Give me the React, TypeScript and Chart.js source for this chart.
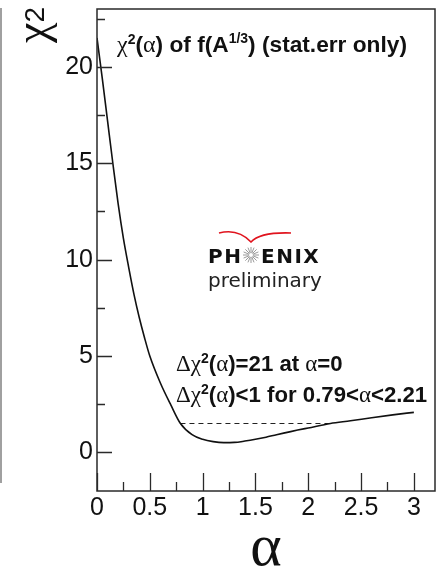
import React, { useEffect, useRef } from "react";
import { Chart, registerables } from "chart.js";

Chart.register(...registerables);

// χ² scan as a function of α
const alphaValues = [
  0, 0.05, 0.1, 0.15, 0.2, 0.25, 0.3, 0.35, 0.4, 0.45, 0.5, 0.6, 0.7, 0.79,
  0.9, 1.0, 1.1, 1.2, 1.3, 1.4, 1.5, 1.6, 1.7, 1.8, 1.9, 2.0, 2.21, 2.4, 2.6, 2.8, 3.0,
];
const chi2Values = [
  21.5, 19.4, 17.2, 15.0, 12.9, 11.1, 9.6, 8.2, 7.0, 5.95, 5.0, 3.6, 2.45, 1.5,
  0.92, 0.68, 0.56, 0.51, 0.52, 0.59, 0.68, 0.79, 0.92, 1.04, 1.16, 1.27, 1.5, 1.64, 1.8, 1.95, 2.08,
];

// Δχ² < 1 band: α range where χ² stays below min + 1
const bandAlpha = [0.79, 2.21];
const bandChi2 = [1.5, 1.5];

const xTickValues = [0, 0.5, 1, 1.5, 2, 2.5, 3];
const yTickValues = [0, 5, 10, 15, 20];

const SANS = "'Liberation Sans', Arial, sans-serif";
const GREEK = "'Liberation Serif', 'Times New Roman', serif";

type Run = { text: string; font: string; rise?: number };

function drawRuns(ctx: CanvasRenderingContext2D, x: number, y: number, runs: Run[]) {
  let cx = x;
  for (const r of runs) {
    ctx.font = r.font;
    ctx.fillText(r.text, cx, y - (r.rise || 0));
    cx += ctx.measureText(r.text).width;
  }
  return cx;
}

const decorPlugin = {
  id: "decor",
  afterDraw(chart: any) {
    const { ctx, chartArea } = chart;
    const xs = chart.scales.x;
    const ys = chart.scales.y;
    const { left, right, top, bottom } = chartArea;
    ctx.save();

    // neighbouring panel edge
    ctx.strokeStyle = "#a0a0a0";
    ctx.lineWidth = 2;
    ctx.beginPath();
    ctx.moveTo(1, 8);
    ctx.lineTo(1, 483);
    ctx.stroke();

    // frame
    ctx.strokeStyle = "#2a2a2a";
    ctx.lineWidth = 1.5;
    ctx.strokeRect(left, top, right - left, bottom - top);

    // inward ticks on the left axis
    ctx.lineWidth = 1.3;
    ctx.beginPath();
    for (let v = 0; v <= 22.5 + 1e-9; v += 2.5) {
      const py = Math.round(ys.getPixelForValue(v)) + 0.5;
      const major = Math.abs(v / 5 - Math.round(v / 5)) < 1e-6;
      ctx.moveTo(left, py);
      ctx.lineTo(left + (major ? 15 : 8), py);
    }
    // inward ticks on the bottom axis
    for (let v = 0; v <= 3 + 1e-9; v += 0.25) {
      const px = Math.round(xs.getPixelForValue(v)) + 0.5;
      const major = Math.abs(v / 0.5 - Math.round(v / 0.5)) < 1e-6;
      ctx.moveTo(px, bottom);
      ctx.lineTo(px, bottom - (major ? 18 : 9));
    }
    ctx.stroke();

    ctx.fillStyle = "#111";
    ctx.textAlign = "left";
    ctx.textBaseline = "alphabetic";

    // title inside the frame
    drawRuns(ctx, 117, 52, [
      { text: "χ", font: `24px ${GREEK}` },
      { text: "2", font: `bold 14px ${SANS}`, rise: 8 },
      { text: "(", font: `bold 22.7px ${SANS}` },
      { text: "α", font: `24px ${GREEK}` },
      { text: ") of f(A", font: `bold 22.7px ${SANS}` },
      { text: "1/3", font: `bold 14px ${SANS}`, rise: 9 },
      { text: ") (stat.err only)", font: `bold 22.7px ${SANS}` },
    ]);

    // annotations
    const ann = (y: number, mid: string, tail: string) =>
      drawRuns(ctx, 176, y, [
        { text: "Δχ", font: `23px ${GREEK}` },
        { text: "2", font: `bold 14px ${SANS}`, rise: 8 },
        { text: "(", font: `bold 22.2px ${SANS}` },
        { text: "α", font: `23px ${GREEK}` },
        { text: mid, font: `bold 22.2px ${SANS}` },
        { text: "α", font: `23px ${GREEK}` },
        { text: tail, font: `bold 22.2px ${SANS}` },
      ]);
    ann(371, ")=21 at ", "=0");
    ann(402, ")<1 for 0.79<", "<2.21");

    // PHENIX preliminary logo
    ctx.fillStyle = "#111";
    ctx.font = `bold 20px 'DejaVu Sans', sans-serif`;
    (ctx as any).letterSpacing = "1.5px";
    ctx.fillText("PH", 208, 263);
    ctx.fillText("ENIX", 261, 263);
    (ctx as any).letterSpacing = "0px";
    // starburst in place of the O
    const sx = 251, sy = 255;
    ctx.strokeStyle = "#9a9a9a";
    ctx.lineWidth = 1;
    ctx.beginPath();
    for (let i = 0; i < 16; i++) {
      const a = (i / 16) * Math.PI * 2;
      ctx.moveTo(sx + Math.cos(a) * 2, sy + Math.sin(a) * 2);
      ctx.lineTo(sx + Math.cos(a) * 8, sy + Math.sin(a) * 8);
    }
    ctx.stroke();
    // wings
    ctx.strokeStyle = "#e0141e";
    ctx.lineWidth = 1.6;
    ctx.beginPath();
    ctx.moveTo(219, 233);
    ctx.quadraticCurveTo(238, 228, 251, 242);
    ctx.quadraticCurveTo(260, 232, 291, 233);
    ctx.stroke();
    ctx.fillStyle = "#222";
    ctx.font = `20px 'DejaVu Sans', sans-serif`;
    ctx.fillText("preliminary", 208, 287);

    // axis titles
    ctx.fillStyle = "#111";
    ctx.save();
    ctx.translate(47, 43);
    ctx.rotate(-Math.PI / 2);
    drawRuns(ctx, 0, 0, [
      { text: "χ", font: `46px ${GREEK}` },
      { text: "2", font: `28px ${SANS}`, rise: 3 },
    ]);
    ctx.restore();

    ctx.textAlign = "center";
    ctx.font = `60px ${GREEK}`;
    ctx.fillText("α", (left + right) / 2, 565);

    ctx.restore();
  },
};

export default function App() {
  const canvasRef = useRef<HTMLCanvasElement | null>(null);

  useEffect(() => {
    const canvas = canvasRef.current;
    if (!canvas) return;
    const curve = alphaValues.map((a, i) => ({ x: a, y: chi2Values[i] }));
    const band = bandAlpha.map((a, i) => ({ x: a, y: bandChi2[i] }));

    const chart = new Chart(canvas, {
      type: "line",
      data: {
        datasets: [
          {
            data: curve,
            borderColor: "#111",
            borderWidth: 1.6,
            pointRadius: 0,
            cubicInterpolationMode: "monotone",
            fill: false,
          },
          {
            data: band,
            borderColor: "#222",
            borderWidth: 1.1,
            borderDash: [5, 4],
            pointRadius: 0,
            fill: false,
          },
        ],
      },
      options: {
        responsive: false,
        animation: false,
        layout: { padding: { left: 0, top: 9, right: 7, bottom: 0 } },
        plugins: {
          legend: { display: false },
          tooltip: { enabled: false },
          title: { display: false },
        },
        scales: {
          x: {
            type: "linear",
            min: 0,
            max: 3.2,
            grid: { display: false, drawTicks: false },
            border: { display: false },
            ticks: {
              color: "#111",
              font: { family: SANS, size: 25 },
              padding: 2,
              maxRotation: 0,
              autoSkip: false,
              callback: (v: any) => String(v),
            },
            afterBuildTicks: (s: any) => {
              s.ticks = xTickValues.map((v) => ({ value: v }));
            },
            afterFit: (s: any) => {
              s.height = 77;
              s.paddingLeft = 0;
              s.paddingRight = 0;
            },
          },
          y: {
            type: "linear",
            min: -2,
            max: 23,
            grid: { display: false, drawTicks: false },
            border: { display: false },
            ticks: {
              color: "#111",
              font: { family: SANS, size: 25 },
              padding: 4,
              autoSkip: false,
              callback: (v: any) => String(v),
            },
            afterBuildTicks: (s: any) => {
              s.ticks = yTickValues.map((v) => ({ value: v }));
            },
            afterFit: (s: any) => {
              s.width = 97;
              s.paddingTop = 0;
              s.paddingBottom = 0;
            },
          },
        },
      },
      plugins: [decorPlugin],
    });

    return () => chart.destroy();
  }, []);

  return (
    <div style={{ position: "absolute", left: 0, top: 0, width: 442, height: 568, background: "#fff" }}>
      <canvas ref={canvasRef} width={442} height={568} />
    </div>
  );
}
